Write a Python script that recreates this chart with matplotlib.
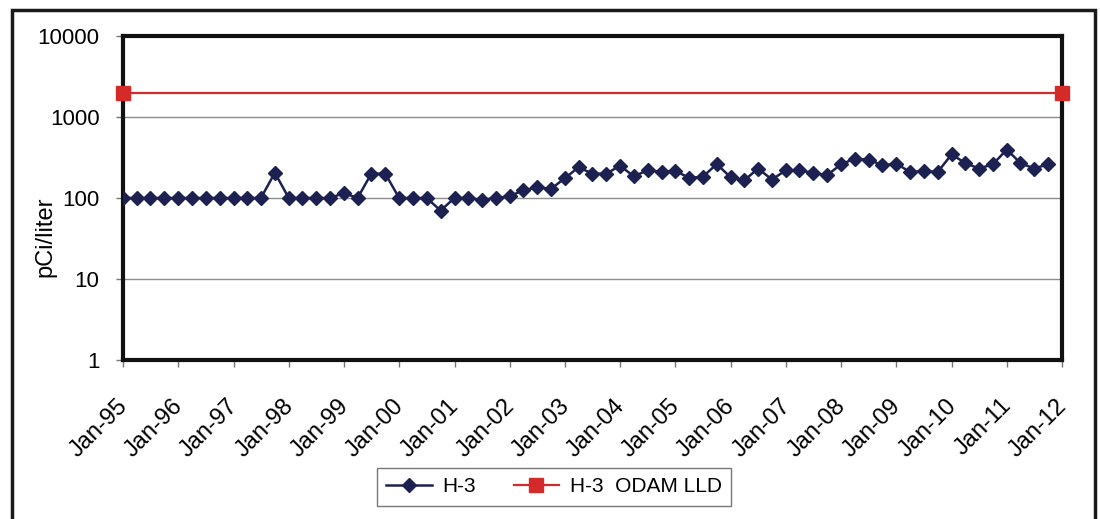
import matplotlib
matplotlib.use("Agg")
import matplotlib.pyplot as plt
import matplotlib.dates as mdates
import matplotlib.transforms as mtrans
from matplotlib.patches import Rectangle
import pandas as pd

plt.rcParams['font.family'] = ['Liberation Sans', 'DejaVu Sans']

# quarterly H-3 results, Jan-95 .. Oct-11
start = '1995-01-01'
n_quarters = 68
h3 = [100, 100, 100, 100, 100, 100, 100, 100, 100, 100, 100, 205,
      100, 100, 100, 100, 115, 100, 200, 200, 100, 100, 100, 70,
      100, 100, 95, 100, 105, 125, 135, 130, 175, 240, 200, 200,
      250, 185, 220, 210, 215, 178, 183, 262, 180, 165, 231, 169,
      220, 220, 204, 191, 261, 306, 298, 253, 266, 209, 215, 209,
      346, 270, 231, 261, 396, 270, 231, 261]
lld_dates = ['1995-01-01', '2012-01-01']
lld = [2000, 2000]
y_ticks = [1, 10, 100, 1000, 10000]

dates = pd.date_range(start, periods=n_quarters, freq='QS')
lld_x = pd.to_datetime(lld_dates)

fig = plt.figure(figsize=(11, 5.19), dpi=100)
ax = fig.add_axes([123/1100, 1 - 360/519, (1062-123)/1100, (360-36)/519])

# outer chart border
fig.patches.append(Rectangle((12/1100, -0.05), (1095-12)/1100, 1.05 - 10/519,
                             transform=fig.transFigure, fill=False,
                             edgecolor='#1a1a1a', linewidth=2.5))

navy = '#1d2152'
red = '#d42a2a'
ax.plot(dates, h3, color=navy, lw=1.8, marker='D', markersize=7.5, label='H-3', zorder=3)
ax.plot(lld_x, lld, color=red, lw=1.6, marker='s', markersize=10,
        label='H-3  ODAM LLD', clip_on=False, zorder=4)

ax.set_yscale('log')
ax.set_ylim(1, 10000)
ax.set_yticks(y_ticks)
ax.set_yticklabels([str(v) for v in y_ticks])
ax.yaxis.set_minor_locator(matplotlib.ticker.NullLocator())
ax.grid(axis='y', color='#8c8c8c', lw=1)
ax.set_axisbelow(True)

ax.set_xlim(pd.Timestamp('1995-01-01'), pd.Timestamp('2012-01-01'))
ax.xaxis.set_major_locator(mdates.YearLocator())
ax.xaxis.set_major_formatter(mdates.DateFormatter('%b-%y'))

for s in ax.spines.values():
    s.set_linewidth(3)
    s.set_color('#111111')

ax.tick_params(axis='y', labelsize=16, length=5, width=1, color='#777777', pad=12)
ax.tick_params(axis='x', labelsize=17, length=5, width=1, color='#777777', pad=20)
offset = mtrans.ScaledTranslation(9/100, 0, fig.dpi_scale_trans)
for lab in ax.get_xticklabels():
    lab.set_rotation(45)
    lab.set_ha('right')
    lab.set_transform(lab.get_transform() + offset)

fig.text(45/1100, 1 - 237/519, 'pCi/liter', rotation=90, fontsize=17,
         ha='center', va='center')

leg = fig.legend(loc='center', bbox_to_anchor=(554/1100, 1 - 487/519), ncol=2,
                 fontsize=15, frameon=True, fancybox=False, handlelength=2.2,
                 handletextpad=0.5, columnspacing=1.8, borderpad=0.45)
leg.get_frame().set_edgecolor('#555555')
leg.get_frame().set_linewidth(1)

fig.savefig('out.png', dpi=100)
